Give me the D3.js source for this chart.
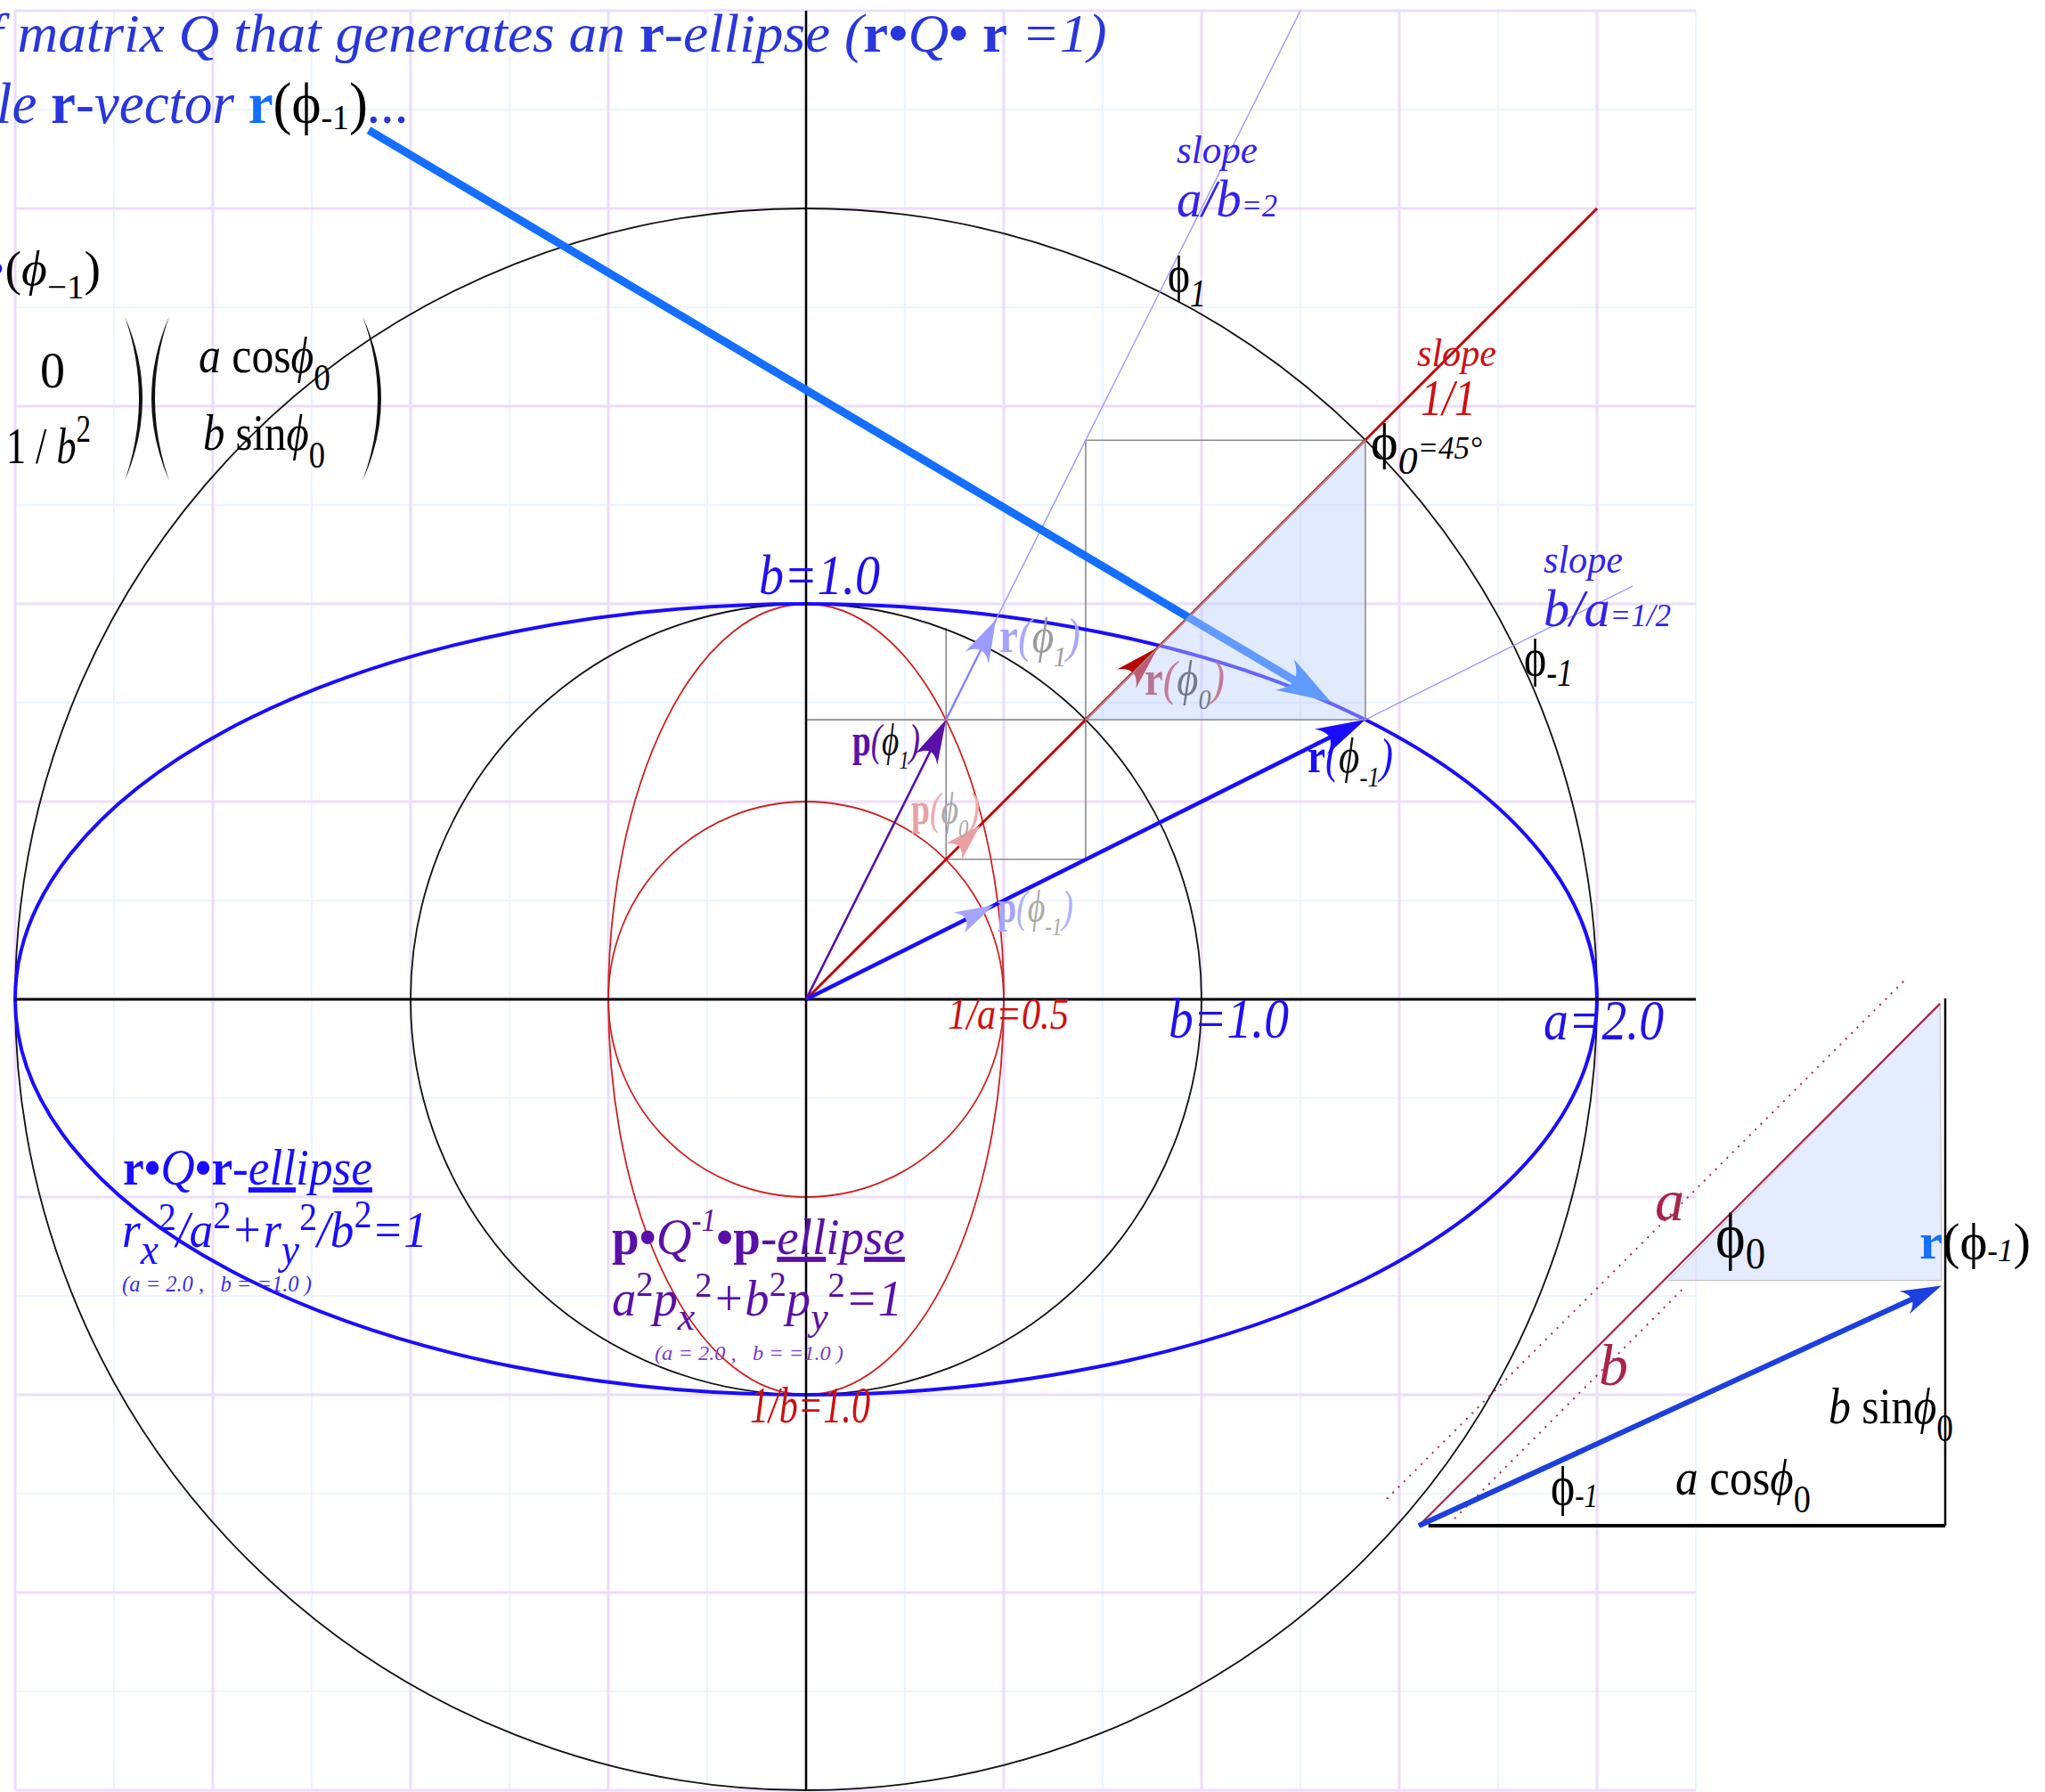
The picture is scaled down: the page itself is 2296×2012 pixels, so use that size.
<!DOCTYPE html>
<html>
<head>
<meta charset="utf-8">
<script src="https://cdn.jsdelivr.net/npm/d3@7"></script>
<style>
html, body { margin: 0; padding: 0; background: #fff; }
svg { display: block; }
text { font-family: "Liberation Serif", "DejaVu Serif", serif; white-space: pre; }
</style>
</head>
<body>
<svg id="chart" width="2296" height="2012"></svg>
<script>
// ellipse parameters
var A = 2.0, B = 1.0;
var circleRadii = [1.0, 2.0];          // black circles b and a
var invA = 0.5, invB = 1.0;            // p-ellipse semi axes 1/a, 1/b

// grid
var gridMajorX = [-2, -1.5, -1, -0.5, 0, 0.5, 1, 1.5, 2];
var gridMinorX = [-1.75, -1.25, -0.75, -0.25, 0.25, 0.75, 1.25, 1.75, 2.25];
var gridMajorY = [-2, -1.5, -1, -0.5, 0, 0.5, 1, 1.5, 2, 2.5];
var gridMinorY = [-1.75, -1.25, -0.75, -0.25, 0.25, 0.75, 1.25, 1.75, 2.25];

// slope lines (slope, x where they end)
var slopes = [2, 1, 0.5];
var slopeEnds = [1.25, 2.0, 2.09];

// vector tips
var rTips = [[0.48, 0.96], [0.89, 0.89], [1.414, 0.707]];    // r(phi1), r(phi0), r(phi-1)
var pTips = [[0.354, 0.707], [0.44, 0.44], [0.475, 0.238]];  // p(phi1), p(phi0), p(phi-1)
var bigArrow = [[-1.106, 2.198], [1.327, 0.752]];

// construction box lines [x0, y0, x1, y1]
var guides = [
  [0, 0.707, 1.414, 0.707],
  [0.354, 0.354, 0.354, 0.94],
  [0.354, 0.354, 0.707, 0.354],
  [0.707, 0.354, 0.707, 1.414],
  [0.707, 1.414, 1.414, 1.414],
  [1.414, 0.707, 1.414, 1.414]
];
var shade = [[0.707, 0.707], [1.414, 1.414], [1.414, 0.707]];

// inset triangle (own units)
var insetLegs = [[0.026, 0, 1.414, 0], [1.414, 0, 1.414, 1.414]];
var insetHyp = [0, 0, 1.40, 1.40];
var insetShade = [[0.67, 0.658], [1.40, 1.40], [1.404, 0.658]];
var insetVec = [0, 0, 1.404, 0.644];
var insetDots = [[-0.086, 0.072, 1.313, 1.471], [0.096, 0.019, 0.713, 0.639]];

var BLUE = "#1a0dff", TBLUE = "#2836dc", RED = "#cc1111", PURP = "#5a0fa8",
    BRIGHT = "#146eff", CRIM = "#a8244a";

var svg = d3.select("#chart");
svg.append("rect").attr("width", 2296).attr("height", 2012).attr("fill", "#fff");

var x = d3.scaleLinear().domain([-2, 2.25]).range([17, 1904]);
var y = d3.scaleLinear().domain([-2, 2.5]).range([2010, 12]);
var ix = d3.scaleLinear().domain([0, 1.414]).range([1593, 2184]);
var iy = d3.scaleLinear().domain([0, 1.414]).range([1713, 1121]);

// grid
var grid = svg.append("g");
grid.selectAll(".vmin").data(gridMinorX).enter().append("line")
  .attr("x1", d => x(d)).attr("x2", d => x(d)).attr("y1", y(-2)).attr("y2", y(2.5))
  .attr("stroke", "#ebf5ff").attr("stroke-width", 2);
grid.selectAll(".hmin").data(gridMinorY).enter().append("line")
  .attr("y1", d => y(d)).attr("y2", d => y(d)).attr("x1", x(-2)).attr("x2", x(2.25))
  .attr("stroke", "#ebf5ff").attr("stroke-width", 2);
grid.selectAll(".vmaj").data(gridMajorX).enter().append("line")
  .attr("x1", d => x(d)).attr("x2", d => x(d)).attr("y1", y(-2)).attr("y2", y(2.5))
  .attr("stroke", "#eddcfc").attr("stroke-width", 3);
grid.selectAll(".hmaj").data(gridMajorY).enter().append("line")
  .attr("y1", d => y(d)).attr("y2", d => y(d)).attr("x1", x(-2)).attr("x2", x(2.25))
  .attr("stroke", "#eddcfc").attr("stroke-width", 3);

// guide box
svg.append("g").selectAll("line").data(guides).enter().append("line")
  .attr("x1", d => x(d[0])).attr("y1", d => y(d[1])).attr("x2", d => x(d[2])).attr("y2", d => y(d[3]))
  .attr("stroke", "#8a8a8a").attr("stroke-width", 1.6);

// circles and ellipses
var cx0 = x(0), cy0 = y(0), ux = x(1) - x(0), uy = y(0) - y(1);
svg.append("g").selectAll("ellipse").data(circleRadii).enter().append("ellipse")
  .attr("cx", cx0).attr("cy", cy0).attr("rx", d => d * ux).attr("ry", d => d * uy)
  .attr("fill", "none").attr("stroke", "#111").attr("stroke-width", 1.8);
svg.append("ellipse").attr("cx", cx0).attr("cy", cy0).attr("rx", invA * ux).attr("ry", invA * uy)
  .attr("fill", "none").attr("stroke", "#cc2222").attr("stroke-width", 1.8);
svg.append("ellipse").attr("cx", cx0).attr("cy", cy0).attr("rx", invA * ux).attr("ry", invB * uy)
  .attr("fill", "none").attr("stroke", "#cc2222").attr("stroke-width", 1.8);
svg.append("ellipse").attr("cx", cx0).attr("cy", cy0).attr("rx", A * ux).attr("ry", B * uy)
  .attr("fill", "none").attr("stroke", BLUE).attr("stroke-width", 4);

// axes
svg.append("line").attr("x1", x(-2)).attr("x2", x(2.25)).attr("y1", y(0)).attr("y2", y(0))
  .attr("stroke", "#000").attr("stroke-width", 3);
svg.append("line").attr("x1", x(0)).attr("x2", x(0)).attr("y1", y(-2)).attr("y2", y(2.5))
  .attr("stroke", "#000").attr("stroke-width", 2.5);

// thin slope lines
svg.append("line").attr("x1", x(0)).attr("y1", y(0)).attr("x2", x(slopeEnds[0])).attr("y2", y(slopes[0] * slopeEnds[0]))
  .attr("stroke", "#9a9aff").attr("stroke-width", 1.4);
svg.append("line").attr("x1", x(0)).attr("y1", y(0)).attr("x2", x(slopeEnds[2])).attr("y2", y(slopes[2] * slopeEnds[2]))
  .attr("stroke", "#9a9aff").attr("stroke-width", 1.4);
svg.append("line").attr("x1", x(pTips[0][0])).attr("y1", y(pTips[0][1])).attr("x2", x(rTips[0][0])).attr("y2", y(rTips[0][1]))
  .attr("stroke", "#8484ff").attr("stroke-width", 2.4);
svg.append("line").attr("x1", x(0)).attr("y1", y(0)).attr("x2", x(slopeEnds[1])).attr("y2", y(slopes[1] * slopeEnds[1]))
  .attr("stroke", "#c40000").attr("stroke-width", 3);

function head(px, py, ang, L, W, color) {
  svg.append("path")
    .attr("d", "M0,0 L" + (-L) + "," + (-W) + " Q" + (-0.6 * L) + ",0 " + (-L) + "," + W + " Z")
    .attr("transform", "translate(" + px + "," + py + ") rotate(" + ang + ")")
    .attr("fill", color);
}
function vec(x0, y0, x1, y1, color, width, L, W, line) {
  var ang = Math.atan2(y1 - y0, x1 - x0);
  if (line) {
    svg.append("line").attr("x1", x0).attr("y1", y0)
      .attr("x2", x1 - Math.cos(ang) * L * 0.6).attr("y2", y1 - Math.sin(ang) * L * 0.6)
      .attr("stroke", color).attr("stroke-width", width);
  }
  head(x1, y1, ang * 180 / Math.PI, L, W, color);
}

// arrows
vec(x(0), y(0), x(rTips[2][0]), y(rTips[2][1]), BLUE, 4.5, 56, 16, true);
vec(x(0), y(0), x(pTips[0][0]), y(pTips[0][1]), PURP, 2.6, 50, 14, true);
vec(x(0), y(0), x(rTips[0][0]), y(rTips[0][1]), "#9c9cff", 0, 48, 15, false);
vec(x(0), y(0), x(rTips[1][0]), y(rTips[1][1]), "#b80000", 0, 50, 15, false);
vec(x(0), y(0), x(pTips[1][0]), y(pTips[1][1]), "#e8a0a0", 0, 42, 13, false);
vec(x(0), y(0), x(pTips[2][0]), y(pTips[2][1]), "#a4a4ff", 0, 44, 13, false);
vec(x(bigArrow[0][0]), y(bigArrow[0][1]), x(bigArrow[1][0]), y(bigArrow[1][1]), BRIGHT, 9, 60, 20, true);

// inset
svg.append("path").attr("d", d3.line()(insetShade.map(p => [ix(p[0]), iy(p[1])])) + "Z")
  .attr("fill", "rgb(196,212,250)").attr("fill-opacity", 0.45).attr("stroke", "#bbb").attr("stroke-width", 1);
svg.selectAll(".idot").data(insetDots).enter().append("line")
  .attr("x1", d => ix(d[0])).attr("y1", d => iy(d[1])).attr("x2", d => ix(d[2])).attr("y2", d => iy(d[3]))
  .attr("stroke", CRIM).attr("stroke-width", 2).attr("stroke-dasharray", "2,7");
svg.append("line").attr("x1", ix(insetHyp[0])).attr("y1", iy(insetHyp[1])).attr("x2", ix(insetHyp[2])).attr("y2", iy(insetHyp[3]))
  .attr("stroke", CRIM).attr("stroke-width", 2.2);
svg.selectAll(".ileg").data(insetLegs).enter().append("line")
  .attr("x1", d => ix(d[0])).attr("y1", d => iy(d[1])).attr("x2", d => ix(d[2])).attr("y2", d => iy(d[3]))
  .attr("stroke", "#000").attr("stroke-width", (d, i) => i === 0 ? 4 : 2.5);
vec(ix(insetVec[0]), iy(insetVec[1]), ix(insetVec[2]), iy(insetVec[3]), "#1c3fe0", 6, 46, 14, true);

// matrix parens
function paren(xe, top, bot, bulge) {
  var mid = (top + bot) / 2;
  svg.append("path")
    .attr("d", "M" + xe + "," + top + " Q" + (xe + 2 * bulge) + "," + mid + " " + xe + "," + bot +
      " Q" + (xe + 2 * bulge - Math.sign(bulge) * 8) + "," + mid + " " + xe + "," + top + " Z")
    .attr("fill", "#111");
}
paren(140, 355, 540, 20);
paren(190, 355, 540, -20);
paren(407, 355, 540, 21);

// text helper: parts are [text, style]; the whole label is squeezed to width w
function label(x0, y0, size, parts, w, color) {
  var t = svg.append("text").attr("font-size", size).attr("fill", color || "#000");
  var cur = 0;
  parts.forEach(function(p) {
    var o = p[1] || {};
    var off = (o.dy || 0) * size;
    var ts = t.append("tspan").text(p[0]).attr("dy", off - cur);
    cur = off;
    if (o.i) ts.attr("font-style", "italic");
    if (o.b) ts.attr("font-weight", "bold");
    if (o.c) ts.attr("fill", o.c);
    if (o.s) ts.attr("font-size", size * o.s);
    if (o.u) ts.attr("text-decoration", "underline");
  });
  t.attr("transform", "translate(" + x0 + "," + y0 + ")");
  if (w) {
    var bw = t.node().getBBox().width;
    t.attr("transform", "translate(" + x0 + "," + y0 + ") scale(" + (w / bw) + ",1)");
  }
  return t;
}

// titles
label(-14, 58, 62, [["f matrix Q that generates an ", {i: 1}], ["r", {b: 1}], ["-ellipse (", {i: 1}], ["r", {b: 1}],
  ["•", {b: 1}], ["Q", {i: 1}], ["• ", {b: 1}], ["r", {b: 1}], [" =1)", {i: 1}]], 1257, TBLUE);
label(-4, 138, 66, [["le ", {i: 1}], ["r", {b: 1}], ["-vector ", {i: 1}], ["r", {b: 1, c: BRIGHT}], ["(ϕ", {c: "#000"}],
  ["-1", {c: "#000", s: 0.6, dy: 0.1}], [")", {c: "#000"}], ["...", {i: 1}]], 464, TBLUE);
label(-14, 320, 54, [["•", {c: BLUE}], ["("], ["ϕ", {i: 1}], ["−1", {s: 0.7, dy: 0.28}], [")"]], 127);

// matrix entries
label(45, 435, 56, [["0"]]);
label(7, 520, 58, [["1 / "], ["b", {i: 1}], ["2", {s: 0.75, dy: -0.42}]], 95);
label(223, 418, 56, [["a", {i: 1}], [" cos"], ["ϕ", {i: 1}], ["0", {s: 0.75, dy: 0.35}]], 148);
label(228, 505, 56, [["b", {i: 1}], [" sin"], ["ϕ", {i: 1}], ["0", {s: 0.75, dy: 0.35}]], 137);

// axis labels
label(852, 667, 64, [["b=1.0", {i: 1}]], 136, "#2010ee");
label(1312, 1165, 64, [["b=1.0", {i: 1}]], 135, "#2010ee");
label(1733, 1167, 64, [["a=2.0", {i: 1}]], 135, "#2010ee");
label(1064, 1155, 50, [["1/a=0.5", {i: 1}]], 136, RED);
label(842, 1597, 56, [["1/b=1.0", {i: 1}]], 135, RED);

// slope labels
label(1321, 183, 44, [["slope", {i: 1}]], 91, "#3322ee");
label(1321, 243, 60, [["a/b", {i: 1}], ["=2", {i: 1, s: 0.6}]], 113, "#3322ee");
label(1591, 411, 44, [["slope", {i: 1}]], 89, RED);
label(1595, 466, 58, [["1/1", {i: 1}]], 62, RED);
label(1733, 643, 44, [["slope", {i: 1}]], 89, "#3322ee");
label(1733, 703, 60, [["b/a", {i: 1}], ["=1/2", {i: 1, s: 0.6}]], 143, "#3322ee");

// angle labels
label(1311, 327, 58, [["ϕ"], ["1", {i: 1, s: 0.75, dy: 0.3}]], 43);
label(1539, 515, 58, [["ϕ"], ["0", {i: 1, s: 0.75, dy: 0.3}], ["=45°", {i: 1, s: 0.6, dy: 0}]], 125);
label(1711, 758, 60, [["ϕ"], ["-1", {i: 1, s: 0.75, dy: 0.2}]], 55);

// vector labels
label(1122, 732, 54, [["r", {b: 1, c: "#a4a4ff"}], ["(", {i: 1, c: "#a8a8ff"}], ["ϕ", {i: 1, c: "#9a9a9a"}],
  ["1", {i: 1, s: 0.6, dy: 0.3, c: "#9a9a9a"}], [")", {i: 1, c: "#a8a8ff"}]], 91);
label(1285, 780, 54, [["r", {b: 1, c: "#b02a3c"}], ["(", {i: 1, c: "#cc3344"}], ["ϕ", {i: 1, c: "#333"}],
  ["0", {i: 1, s: 0.6, dy: 0.3, c: "#333"}], [")", {i: 1, c: "#cc3344"}]], 90);
label(1468, 867, 54, [["r", {b: 1, c: BLUE}], ["(", {i: 1, c: BLUE}], ["ϕ", {i: 1, c: "#111"}],
  ["-1", {i: 1, s: 0.6, dy: 0.3, c: "#111"}], [")", {i: 1, c: BLUE}]], 96);
label(957, 848, 50, [["p", {b: 1, c: PURP}], ["(", {i: 1, c: PURP}], ["ϕ", {i: 1, c: "#111"}],
  ["1", {i: 1, s: 0.6, dy: 0.3, c: "#111"}], [")", {i: 1, c: PURP}]], 76);
label(1023, 925, 50, [["p", {b: 1, c: "#e8a0a0"}], ["(", {i: 1, c: "#eeaaaa"}], ["ϕ", {i: 1, c: "#aaa"}],
  ["0", {i: 1, s: 0.6, dy: 0.3, c: "#aaa"}], [")", {i: 1, c: "#eeaaaa"}]], 77);
label(1120, 1035, 50, [["p", {b: 1, c: "#a4a4ff"}], ["(", {i: 1, c: "#b0b0ff"}], ["ϕ", {i: 1, c: "#aaa"}],
  ["-1", {i: 1, s: 0.6, dy: 0.3, c: "#aaa"}], [")", {i: 1, c: "#b0b0ff"}]], 85);

// ellipse legends
label(138, 1330, 58, [["r", {b: 1}], ["•", {b: 1}], ["Q", {i: 1}], ["•", {b: 1}], ["r", {b: 1}], ["-"],
  ["ell", {i: 1, u: 1}], ["ip", {i: 1}], ["se", {i: 1, u: 1}]], 280, BLUE);
label(137, 1400, 58, [["r", {i: 1}], ["x", {i: 1, s: 0.85, dy: 0.32}], ["2", {s: 0.75, dy: -0.32}], ["/a", {i: 1}],
  ["2", {s: 0.75, dy: -0.36}], ["+r", {i: 1}], ["y", {i: 1, s: 0.85, dy: 0.32}], ["2", {s: 0.75, dy: -0.32}],
  ["/b", {i: 1}], ["2", {s: 0.75, dy: -0.38}], ["=1", {i: 1}]], 343, BLUE);
label(137, 1450, 26, [["(a = 2.0 ,   b = =1.0 )", {i: 1}]], 213, "#3a2cee");

label(687, 1408, 58, [["p", {b: 1}], ["•", {b: 1}], ["Q", {i: 1}], ["-1", {i: 1, s: 0.6, dy: -0.45}], ["•", {b: 1}],
  ["p", {b: 1}], ["-"], ["ell", {i: 1, u: 1}], ["ip", {i: 1}], ["se", {i: 1, u: 1}]], 329, PURP);
label(687, 1477, 56, [["a", {i: 1}], ["2", {s: 0.7, dy: -0.4}], ["p", {i: 1}], ["x", {i: 1, s: 0.8, dy: 0.28}],
  ["2", {s: 0.7, dy: -0.38}], ["+b", {i: 1}], ["2", {s: 0.7, dy: -0.4}], ["p", {i: 1}], ["y", {i: 1, s: 0.8, dy: 0.28}],
  ["2", {s: 0.7, dy: -0.38}], ["=1", {i: 1}]], 326, PURP);
label(735, 1527, 24, [["(a = 2.0 ,   b = =1.0 )", {i: 1}]], 212, "#7a3ac8");

// inset labels
label(1858, 1370, 66, [["a", {i: 1}]], null, CRIM);
label(1795, 1555, 66, [["b", {i: 1}]], null, CRIM);
label(1926, 1412, 72, [["ϕ"], ["0", {s: 0.7, dy: 0.16}]], 56);
label(2155, 1413, 58, [["r", {b: 1, c: BRIGHT}], ["(ϕ"], ["-1", {i: 1, s: 0.6, dy: 0.05}], [")"]], 125);
label(2053, 1598, 58, [["b", {i: 1}], [" sin"], ["ϕ", {i: 1}], ["0", {s: 0.75, dy: 0.35}]], 140);
label(1881, 1678, 58, [["a", {i: 1}], [" cos"], ["ϕ", {i: 1}], ["0", {s: 0.75, dy: 0.35}]], 152);
label(1741, 1689, 62, [["ϕ"], ["-1", {i: 1, s: 0.6, dy: 0.05}]], 53);

// shaded triangle on top, semi transparent
svg.append("path").attr("d", d3.line()(shade.map(p => [x(p[0]), y(p[1])])) + "Z")
  .attr("fill", "rgb(190,208,250)").attr("fill-opacity", 0.45).attr("stroke", "#999").attr("stroke-width", 1.2);
</script>
</body>
</html>
